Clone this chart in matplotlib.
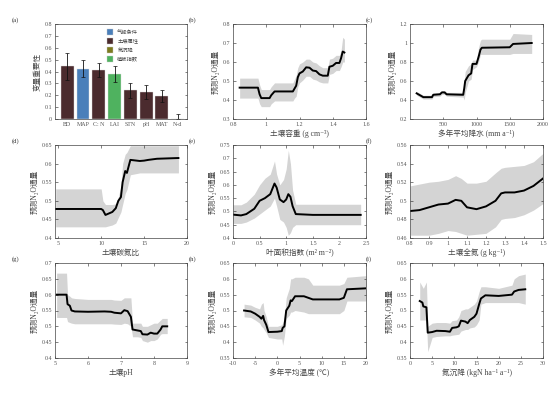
import matplotlib
matplotlib.use("Agg")
import matplotlib.pyplot as plt
from matplotlib.ticker import FuncFormatter
from matplotlib.patches import Patch
import numpy as np

plt.rcParams['font.family'] = ['Liberation Serif', 'Noto Sans CJK SC', 'DejaVu Sans']

# (a) Variablenwichtigkeit
namen = ["BD", "MAP", "C: N", "LAI", "STN", "pH", "MAT", "N-d"]
wichtigkeit = [0.445, 0.42, 0.415, 0.378, 0.245, 0.228, 0.195, 0.0]
fehler_unten = [0.115, 0.07, 0.06, 0.068, 0.065, 0.058, 0.05, 0.0]
fehler_oben = [0.11, 0.075, 0.06, 0.072, 0.06, 0.057, 0.05, 0.04]
gruppe = ["soil", "climate", "soil", "veg", "soil", "soil", "soil", "ndep"]

farben = {"climate": "#4a7fba", "soil": "#4b2b2e", "ndep": "#7d7b1f", "veg": "#4fb25f"}
legende = [("气候条件", "climate"), ("土壤属性", "soil"), ("氮沉降", "ndep"), ("植被指数", "veg")]

# (b) Bodendichte
b_x = [0.84, 0.95, 0.96, 0.97, 1.02, 1.03, 1.05, 1.16, 1.17, 1.18, 1.19, 1.20, 1.22, 1.24, 1.26, 1.28, 1.30, 1.32, 1.34, 1.37, 1.38, 1.40, 1.42, 1.44, 1.45, 1.46, 1.47]
b_y = [0.465, 0.465, 0.43, 0.41, 0.41, 0.425, 0.445, 0.445, 0.46, 0.475, 0.52, 0.54, 0.55, 0.572, 0.57, 0.555, 0.552, 0.535, 0.528, 0.528, 0.575, 0.58, 0.595, 0.595, 0.62, 0.655, 0.65]
b_lo = [0.41, 0.41, 0.38, 0.365, 0.365, 0.38, 0.395, 0.395, 0.41, 0.42, 0.47, 0.49, 0.505, 0.525, 0.525, 0.51, 0.505, 0.495, 0.49, 0.49, 0.535, 0.54, 0.555, 0.555, 0.575, 0.60, 0.60]
b_hi = [0.515, 0.515, 0.48, 0.455, 0.455, 0.47, 0.49, 0.49, 0.51, 0.53, 0.57, 0.59, 0.60, 0.615, 0.615, 0.60, 0.595, 0.58, 0.57, 0.57, 0.615, 0.62, 0.635, 0.635, 0.66, 0.73, 0.72]

# (c) Jahresniederschlag
c_x = [100, 150, 200, 330, 350, 450, 480, 520, 550, 800, 815, 830, 880, 920, 940, 1000, 1030, 1060, 1080, 1500, 1550, 1830]
c_y = [0.47, 0.45, 0.43, 0.43, 0.455, 0.46, 0.48, 0.48, 0.46, 0.455, 0.52, 0.60, 0.66, 0.68, 0.78, 0.78, 0.85, 0.93, 0.95, 0.955, 0.99, 1.0]
c_lo = [0.45, 0.43, 0.41, 0.41, 0.435, 0.44, 0.46, 0.46, 0.44, 0.43, 0.40, 0.48, 0.60, 0.62, 0.72, 0.75, 0.80, 0.88, 0.88, 0.88, 0.89, 0.89]
c_hi = [0.49, 0.47, 0.45, 0.45, 0.475, 0.48, 0.50, 0.50, 0.48, 0.48, 0.60, 0.70, 0.76, 0.78, 0.82, 0.82, 0.95, 1.03, 1.04, 1.04, 1.10, 1.09]

# (d) C:N
d_x = [4.7, 10.0, 10.2, 10.5, 10.8, 11.3, 11.7, 12.0, 12.3, 12.5, 12.8, 13.0, 13.4, 14.5, 15.0, 15.5, 16.5, 19.0]
d_y = [0.478, 0.478, 0.475, 0.462, 0.465, 0.47, 0.48, 0.50, 0.51, 0.55, 0.58, 0.575, 0.61, 0.607, 0.608, 0.61, 0.613, 0.615]
d_lo = [0.43, 0.43, 0.43, 0.43, 0.432, 0.435, 0.44, 0.455, 0.47, 0.49, 0.52, 0.53, 0.57, 0.575, 0.575, 0.575, 0.575, 0.575]
d_hi = [0.532, 0.532, 0.50, 0.49, 0.49, 0.49, 0.492, 0.51, 0.54, 0.60, 0.625, 0.63, 0.648, 0.648, 0.648, 0.648, 0.648, 0.648]

# (e) LAI
e_x = [0.0, 0.15, 0.25, 0.4, 0.5, 0.6, 0.7, 0.78, 0.82, 0.88, 0.95, 1.0, 1.04, 1.08, 1.12, 1.18, 1.5, 2.4]
e_y = [0.488, 0.485, 0.49, 0.51, 0.54, 0.55, 0.565, 0.605, 0.59, 0.545, 0.535, 0.545, 0.565, 0.555, 0.52, 0.49, 0.487, 0.487]
e_lo = [0.455, 0.455, 0.46, 0.475, 0.49, 0.505, 0.52, 0.55, 0.52, 0.47, 0.46, 0.44, 0.41, 0.42, 0.44, 0.45, 0.45, 0.45]
e_hi = [0.525, 0.525, 0.535, 0.565, 0.60, 0.625, 0.64, 0.69, 0.64, 0.60, 0.62, 0.66, 0.73, 0.68, 0.58, 0.527, 0.527, 0.527]

# (f) Gesamtstickstoff
f_x = [0.8, 0.85, 0.9, 0.95, 1.0, 1.04, 1.07, 1.1, 1.15, 1.2, 1.25, 1.28, 1.3, 1.35, 1.4, 1.45, 1.5]
f_y = [0.489, 0.490, 0.493, 0.496, 0.497, 0.501, 0.500, 0.493, 0.491, 0.494, 0.500, 0.508, 0.509, 0.509, 0.511, 0.516, 0.524]
f_lo = [0.463, 0.463, 0.463, 0.465, 0.468, 0.467, 0.465, 0.463, 0.464, 0.465, 0.472, 0.480, 0.481, 0.482, 0.485, 0.490, 0.497]
f_hi = [0.516, 0.518, 0.520, 0.521, 0.523, 0.527, 0.524, 0.519, 0.519, 0.521, 0.530, 0.535, 0.536, 0.537, 0.538, 0.542, 0.551]

# (g) pH
g_x = [5.05, 5.35, 5.38, 5.45, 5.5, 5.6, 6.0, 6.5, 6.7, 6.8, 7.0, 7.1, 7.2, 7.3, 7.35, 7.5, 7.6, 7.65, 7.8, 7.9, 8.0, 8.1, 8.2, 8.25, 8.4]
g_y = [0.60, 0.60, 0.57, 0.565, 0.55, 0.547, 0.546, 0.547, 0.546, 0.543, 0.541, 0.551, 0.548, 0.53, 0.49, 0.487, 0.485, 0.475, 0.474, 0.48, 0.477, 0.477, 0.49, 0.50, 0.50]
g_lo = [0.528, 0.528, 0.515, 0.512, 0.51, 0.508, 0.508, 0.508, 0.508, 0.507, 0.506, 0.51, 0.508, 0.50, 0.467, 0.467, 0.465, 0.455, 0.45, 0.455, 0.455, 0.46, 0.475, 0.477, 0.477]
g_hi = [0.668, 0.668, 0.60, 0.595, 0.59, 0.588, 0.585, 0.585, 0.585, 0.583, 0.582, 0.59, 0.59, 0.59, 0.51, 0.51, 0.51, 0.50, 0.50, 0.505, 0.51, 0.51, 0.52, 0.525, 0.525]

# (h) Jahrestemperatur
h_x = [-7.5, -6.0, -5.0, -4.0, -3.6, -3.2, -3.0, -2.5, -2.0, 0.0, 1.0, 1.2, 1.6, 2.0, 2.7, 3.0, 3.3, 4.0, 6.0, 7.0, 8.0, 14.0, 15.0, 15.7, 20.0]
h_y = [0.50, 0.497, 0.49, 0.48, 0.474, 0.483, 0.47, 0.455, 0.432, 0.433, 0.435, 0.445, 0.45, 0.50, 0.515, 0.532, 0.53, 0.545, 0.545, 0.54, 0.535, 0.535, 0.54, 0.567, 0.57]
h_lo = [0.48, 0.478, 0.47, 0.46, 0.45, 0.445, 0.44, 0.43, 0.415, 0.41, 0.41, 0.39, 0.42, 0.475, 0.485, 0.495, 0.495, 0.50, 0.495, 0.49, 0.49, 0.49, 0.50, 0.53, 0.53]
h_hi = [0.52, 0.517, 0.51, 0.505, 0.52, 0.525, 0.50, 0.48, 0.45, 0.45, 0.455, 0.46, 0.48, 0.54, 0.57, 0.60, 0.60, 0.605, 0.605, 0.60, 0.58, 0.58, 0.585, 0.605, 0.61]

# (i) Stickstoffdeposition
i_x = [2.2, 2.8, 3.0, 3.7, 4.0, 5.0, 6.0, 8.0, 9.0, 9.5, 10.5, 11.0, 11.5, 12.5, 13.0, 13.5, 14.5, 15.0, 15.6, 16.0, 17.0, 20.0, 23.0, 23.5, 24.5, 26.0]
i_y = [0.53, 0.525, 0.513, 0.51, 0.43, 0.432, 0.436, 0.435, 0.433, 0.445, 0.447, 0.45, 0.468, 0.465, 0.46, 0.47, 0.48, 0.49, 0.52, 0.538, 0.548, 0.546, 0.55, 0.56, 0.565, 0.567]
i_lo = [0.47, 0.47, 0.47, 0.47, 0.37, 0.415, 0.418, 0.42, 0.42, 0.422, 0.424, 0.425, 0.435, 0.44, 0.44, 0.445, 0.448, 0.455, 0.47, 0.52, 0.525, 0.525, 0.525, 0.525, 0.525, 0.52]
i_hi = [0.59, 0.575, 0.57, 0.59, 0.45, 0.46, 0.462, 0.462, 0.46, 0.468, 0.47, 0.48, 0.50, 0.505, 0.505, 0.51, 0.52, 0.53, 0.56, 0.575, 0.575, 0.57, 0.58, 0.60, 0.61, 0.615]

ylabel_n2o = "预测N₂O通量"

panels = [
    # label, x, y, lo, hi, xlim, xticks, ylim, yticks, xlabel, pos
    ("(b)", b_x, b_y, b_lo, b_hi, (0.8, 1.6), np.arange(0.8, 1.61, 0.2), (0.3, 0.8), np.arange(0.3, 0.81, 0.1), "土壤容重 (g cm⁻³)", (233, 24, 366, 119)),
    ("(c)", c_x, c_y, c_lo, c_hi, (0, 2000), [500, 1000, 1500, 2000], (0.2, 1.2), np.arange(0.2, 1.21, 0.2), "多年平均降水 (mm a⁻¹)", (410, 24, 543, 119)),
    ("(d)", d_x, d_y, d_lo, d_hi, (4.62, 20), [5, 10, 15, 20], (0.4, 0.65), np.arange(0.4, 0.651, 0.05), "土壤碳氮比", (55, 145, 187, 238)),
    ("(e)", e_x, e_y, e_lo, e_hi, (0, 2.5), np.arange(0, 2.51, 0.5), (0.4, 0.75), np.arange(0.4, 0.751, 0.05), "叶面积指数 (m² m⁻²)", (233, 145, 366, 238)),
    ("(f)", f_x, f_y, f_lo, f_hi, (0.8, 1.5), np.arange(0.8, 1.51, 0.1), (0.46, 0.56), np.arange(0.46, 0.561, 0.02), "土壤全氮 (g kg⁻¹)", (410, 145, 543, 238)),
    ("(g)", g_x, g_y, g_lo, g_hi, (5, 9), [5, 6, 7, 8, 9], (0.4, 0.7), np.arange(0.4, 0.701, 0.05), "土壤pH", (55, 263, 187, 358)),
    ("(h)", h_x, h_y, h_lo, h_hi, (-10, 20), np.arange(-10, 21, 5), (0.35, 0.65), np.arange(0.35, 0.651, 0.05), "多年平均温度 (℃)", (233, 263, 366, 358)),
    ("(i)", i_x, i_y, i_lo, i_hi, (0, 30), np.arange(0, 31, 5), (0.35, 0.65), np.arange(0.35, 0.651, 0.05), "氮沉降 (kgN ha⁻¹ a⁻¹)", (410, 263, 543, 358)),
]

W, H = 554, 399
fig = plt.figure(figsize=(W / 100, H / 100), dpi=100)
fmt = FuncFormatter(lambda v, p: "%g" % round(v, 4))


def style_axes(ax, xfmt=True):
    ax.tick_params(direction="in", length=1.8, width=0.4, labelsize=4.3, pad=2,
                   top=True, right=True, colors="#222222", labelcolor="#555555")
    for s in ax.spines.values():
        s.set_linewidth(0.5)
        s.set_color("#444444")
    if xfmt:
        ax.xaxis.set_major_formatter(fmt)
    ax.yaxis.set_major_formatter(fmt)


def axes_at(l, t, r, b):
    return fig.add_axes([l / W, 1 - b / H, (r - l) / W, (b - t) / H])


# Panel (a)
ax = axes_at(55, 24, 187, 119)
pos = np.arange(1, len(namen) + 1)
ax.bar(pos, wichtigkeit, width=0.82, color=[farben[g] for g in gruppe],
       edgecolor="#dddddd", linewidth=0.3)
ax.errorbar(pos, wichtigkeit, yerr=[fehler_unten, fehler_oben], fmt="none",
            ecolor="#111111", elinewidth=0.6, capsize=1.5, capthick=0.5)
ax.set_xlim(0.22, 8.6)
ax.set_ylim(0, 0.8)
ax.set_yticks(np.arange(0, 0.81, 0.1))
style_axes(ax, xfmt=False)
ax.set_xticks(pos)
ax.set_xticklabels(namen)
ax.set_ylabel("变量重要性", fontsize=5.5, labelpad=2, color="#444444")
ax.tick_params(axis="x", top=False, length=0)
handles = [Patch(facecolor=farben[k], edgecolor="#cccccc", linewidth=0.3) for _, k in legende]
ax.legend(handles, [n for n, _ in legende], loc="upper left", bbox_to_anchor=(0.36, 1.0),
          fontsize=3.8, frameon=False, handlelength=1.0, handleheight=1.4,
          labelspacing=0.55, handletextpad=0.9, labelcolor="#444444")
ax.text(-0.33, 1.02, "(a)", transform=ax.transAxes, fontsize=4.8, color="#333333")

for lab, x, y, lo, hi, xlim, xt, ylim, yt, xlabel, p in panels:
    ax = axes_at(*p)
    ax.fill_between(x, lo, hi, color="#d4d4d4", linewidth=0)
    ax.plot(x, y, color="black", linewidth=1.4)
    ax.set_xlim(*xlim)
    ax.set_ylim(*ylim)
    ax.set_xticks(xt)
    ax.set_yticks(yt)
    ax.set_xlabel(xlabel, fontsize=5.5, labelpad=2, color="#444444")
    ax.set_ylabel(ylabel_n2o, fontsize=5.5, labelpad=2, color="#444444")
    style_axes(ax)
    ax.text(-0.33, 1.02, lab, transform=ax.transAxes, fontsize=4.8, color="#333333")

fig.savefig("out.png", dpi=100)
